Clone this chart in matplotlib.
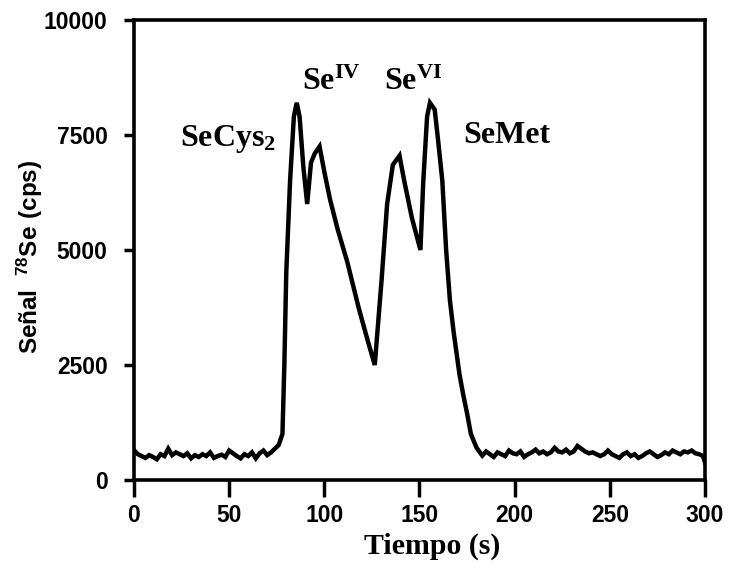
import numpy as np
import matplotlib
matplotlib.use("Agg")
import matplotlib.pyplot as plt

# Chromatogram: 78Se signal (cps) vs time (s)
base_left_t = np.arange(0, 78, 2)
base_left = [650, 560, 520, 480, 540, 500, 450, 560, 520, 680,
             540, 600, 560, 520, 580, 470, 540, 500, 560, 520,
             600, 480, 520, 550, 500, 640, 580, 520, 470, 560,
             520, 600, 470, 580, 640, 540, 600, 680, 760]

peak_t = [78, 79, 80, 82, 84, 85.5, 87, 89, 91, 93, 95, 97.5, 100, 103,
          107, 112, 118, 123, 126.5, 130, 133, 136, 139.5, 142, 146,
          150.5, 152, 154, 155.5, 158, 160, 162, 164, 166, 168, 171,
          173, 175, 177, 180, 183]
peak = [1000, 2500, 4500, 6500, 7900, 8200, 7900, 6800, 6000, 6900, 7100,
        7250, 6700, 6100, 5450, 4750, 3750, 3000, 2500, 4300, 6000, 6850,
        7050, 6500, 5700, 5000, 6500, 7900, 8200, 8050, 7300, 6500, 5000,
        3900, 3200, 2300, 1850, 1450, 1000, 700, 530]

base_right_t = list(np.arange(185, 300, 2)) + [300]
base_right = [620, 560, 500, 600, 560, 520, 640, 580, 560, 620,
              500, 560, 600, 660, 580, 620, 560, 600, 700, 620,
              600, 660, 580, 620, 740, 680, 620, 580, 600, 560,
              520, 560, 640, 560, 520, 480, 560, 600, 520, 560,
              480, 520, 580, 620, 560, 500, 540, 600, 560, 640,
              600, 560, 620, 600, 640, 580, 560, 520, 380]

time = np.concatenate([base_left_t, peak_t, base_right_t])
signal = np.concatenate([base_left, peak, base_right])

x_ticks = [0, 50, 100, 150, 200, 250, 300]
y_ticks = [0, 2500, 5000, 7500, 10000]

plt.rcParams['mathtext.fontset'] = 'custom'
plt.rcParams['mathtext.rm'] = 'Liberation Serif:bold'
plt.rcParams['mathtext.bf'] = 'Liberation Sans:bold'

fig = plt.figure(figsize=(7.31, 5.71), dpi=100)
ax = fig.add_axes([0.1833, 0.1594, 0.7811, 0.8056])

ax.plot(time, signal, color='black', linewidth=3.2, solid_joinstyle='miter')

ax.set_xlim(0, 300)
ax.set_ylim(0, 10000)
ax.set_xticks(x_ticks)
ax.set_yticks(y_ticks)
for s in ax.spines.values():
    s.set_linewidth(2.6)
ax.tick_params(axis='x', direction='out', length=12, width=2.5, pad=5)
ax.tick_params(axis='y', direction='out', length=7, width=2.5, pad=12)
for lab in ax.get_xticklabels() + ax.get_yticklabels():
    lab.set_fontfamily('Liberation Sans')
    lab.set_fontweight('bold')
    lab.set_fontsize(16.5)

ax.set_xlabel('Tiempo (s)', fontfamily='Liberation Serif', fontweight='bold',
              fontsize=21.5)
ax.xaxis.set_label_coords(0.522, -0.115)
fig.text(30 / 731, 1 - 257 / 571, r'Señal  $\mathbf{{}^{78}Se\ (cps)}$',
         fontfamily='Liberation Sans', fontweight='bold', fontsize=17.5,
         rotation=90, ha='center', va='center')

ann = dict(fontfamily='Liberation Serif', fontweight='bold', fontsize=23,
           color='black', ha='left', va='baseline')
ax.text(24, 7250, r'SeCys$\mathrm{_2}$', **ann)
ax.text(88.5, 8480, r'Se$\mathrm{^{IV}}$', **ann)
ax.text(131.5, 8480, r'Se$\mathrm{^{VI}}$', **ann)
ax.text(173, 7320, 'SeMet', **ann)

fig.savefig('out.png', dpi=100)
